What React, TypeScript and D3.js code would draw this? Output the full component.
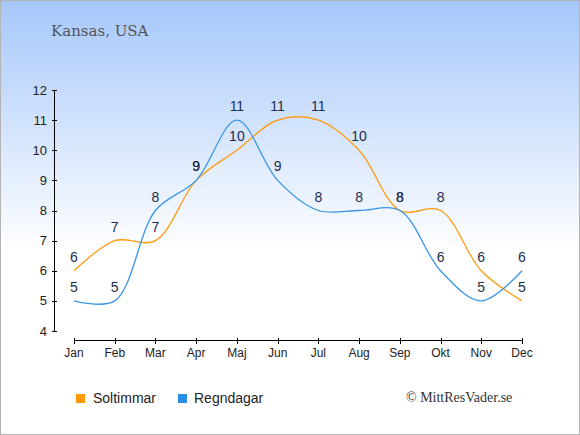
import * as d3 from "d3";

const months = ["Jan", "Feb", "Mar", "Apr", "Maj", "Jun", "Jul", "Aug", "Sep", "Okt", "Nov", "Dec"];
const soltimmar = [6, 7, 7, 9, 10, 11, 11, 10, 8, 8, 6, 5];
const regndagar = [5, 5, 8, 9, 11, 9, 8, 8, 8, 6, 5, 6];
const yTicks = [4, 5, 6, 7, 8, 9, 10, 11, 12];

const W = 580;
const H = 435;
const ORANGE = "#ff9c12";
const BLUE = "#3996e6";
const LABEL = "#1c2d4c";

export default function App() {
  const x = d3.scalePoint<string>().domain(months).range([74, 522]);
  const y = d3.scaleLinear().domain([4, 12]).range([331, 90]);
  const line = d3
    .line<number>()
    .x((_, i) => x(months[i]) ?? 0)
    .y((d) => y(d))
    .curve(d3.curveCatmullRom.alpha(0.5));

  const series = [
    { name: "Soltimmar", values: soltimmar, color: ORANGE },
    { name: "Regndagar", values: regndagar, color: BLUE },
  ];

  return (
    <svg
      width={W}
      height={H}
      style={{ position: "absolute", left: 0, top: 0 }}
      fontFamily="'Liberation Sans', Arial, sans-serif"
    >
      <defs>
        <linearGradient id="bg" x1="0" y1="0" x2="0" y2="1">
          <stop offset="0" stopColor="#a6c7fa" />
          <stop offset="0.58" stopColor="#ffffff" />
          <stop offset="1" stopColor="#ffffff" />
        </linearGradient>
      </defs>
      <rect x={0.5} y={0.5} width={W - 1} height={H - 1} fill="url(#bg)" stroke="#b4b4b4" />

      <text x={51} y={36} fontFamily="'DejaVu Serif', 'Liberation Serif', serif" fontSize={15} fill="#555">
        Kansas, USA
      </text>

      {/* y axis */}
      <line x1={54.5} x2={54.5} y1={y(12)} y2={y(4)} stroke="#000" />
      {yTicks.map((t) => (
        <g key={t}>
          <line x1={52} x2={57} y1={Math.round(y(t)) + 0.5} y2={Math.round(y(t)) + 0.5} stroke="#000" />
          <text x={47} y={y(t) + 4.5} textAnchor="end" fontSize={13} fill="#222">
            {t}
          </text>
        </g>
      ))}

      {/* x axis */}
      <line x1={x("Jan")} x2={x("Dec")} y1={340.5} y2={340.5} stroke="#000" />
      {months.map((m) => (
        <g key={m}>
          <line x1={Math.round(x(m) ?? 0) + 0.5} x2={Math.round(x(m) ?? 0) + 0.5} y1={338} y2={344} stroke="#000" />
          <text x={x(m)} y={357} textAnchor="middle" fontSize={12} fill="#222">
            {m}
          </text>
        </g>
      ))}

      {series.map((s) => (
        <path key={s.name} d={line(s.values) ?? ""} fill="none" stroke={s.color} strokeWidth={1.3} />
      ))}

      {series.map((s) =>
        s.values.map((v, i) => (
          <text
            key={s.name + i}
            x={x(months[i])}
            y={y(v) - 9}
            textAnchor="middle"
            fontSize={14}
            fill={LABEL}
          >
            {v}
          </text>
        )),
      )}

      {/* legend */}
      <rect x={76} y={394} width={9} height={9} fill="#ff9900" />
      <text x={93} y={403} fontSize={14} fill="#222">
        Soltimmar
      </text>
      <rect x={178} y={394} width={9} height={9} fill="#2a8fe4" />
      <text x={194} y={403} fontSize={14} fill="#222">
        Regndagar
      </text>
      <text x={406} y={402} fontFamily="'Liberation Serif', 'DejaVu Serif', serif" fontSize={14} fill="#333">
        © MittResVader.se
      </text>
    </svg>
  );
}
